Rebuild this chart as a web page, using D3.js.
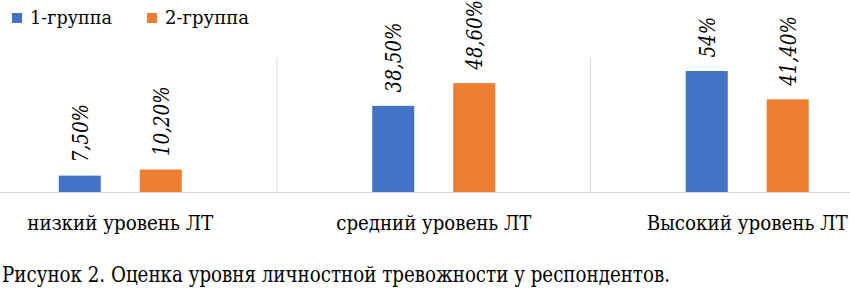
<!DOCTYPE html>
<html><head><meta charset="utf-8">
<script src="https://cdn.jsdelivr.net/npm/d3@7"></script>
<style>
html,body{margin:0;padding:0;background:#fff;}
svg{display:block;}
text{font-family:'DejaVu Serif', serif;}
</style></head>
<body>
<svg id="chart" width="850" height="288"></svg>
<script>
const categories = ["низкий уровень ЛТ", "средний уровень ЛТ", "Высокий уровень ЛТ"];
const seriesNames = ["1-группа", "2-группа"];
const group1 = [7.5, 38.5, 54];
const group2 = [10.2, 48.6, 41.4];
const labels1 = ["7,50%", "38,50%", "54%"];
const labels2 = ["10,20%", "48,60%", "41,40%"];
const colors = ["#4472C4", "#ED7D31"];
const caption = "Рисунок 2. Оценка уровня личностной тревожности у респондентов.";

const catWidths = [186, 195, 201];
const legWidths = [82, 84];
const captionWidth = 668;
const valueSqueeze = 0.83;

const svg = d3.select("#chart");
const x = d3.scaleBand().domain(categories).range([-36.5, 904]).paddingInner(0).paddingOuter(0);
const xs = d3.scaleBand().domain(seriesNames).range([0, x.bandwidth()]).paddingInner(0.4815).paddingOuter(1.176);
const y = d3.scaleLinear().domain([0, 60]).range([192.5, 57.5]);

svg.append("g").selectAll("line").data(categories.slice(1)).join("line")
  .attr("x1", d => x(d)).attr("x2", d => x(d))
  .attr("y1", y(60)).attr("y2", y(0))
  .attr("stroke", "#d9d9d9").attr("stroke-width", 1);

const data = [];
categories.forEach((c, i) => {
  data.push({c, s: seriesNames[0], v: group1[i], l: labels1[i], col: colors[0]});
  data.push({c, s: seriesNames[1], v: group2[i], l: labels2[i], col: colors[1]});
});

svg.append("g").selectAll("rect").data(data).join("rect")
  .attr("x", d => x(d.c) + xs(d.s)).attr("width", xs.bandwidth())
  .attr("y", d => y(d.v)).attr("height", d => y(0) - y(d.v))
  .attr("fill", d => d.col);

svg.append("line").attr("x1", 0).attr("x2", 850).attr("y1", y(0)).attr("y2", y(0))
  .attr("stroke", "#d9d9d9").attr("stroke-width", 1);

svg.append("g").selectAll("text").data(data).join("text")
  .attr("transform", d => `translate(${x(d.c) + xs(d.s) + xs.bandwidth()/2},${y(d.v) - 13.5}) rotate(-90)`)
  .attr("dy", "0.36em")
  .attr("font-size", 22).attr("font-style", "italic").attr("fill", "#000")
  .text(d => d.l)
  .each(function() {
    const w = this.getComputedTextLength();
    d3.select(this).attr("textLength", w * valueSqueeze).attr("lengthAdjust", "spacingAndGlyphs");
  });

svg.append("g").selectAll("text").data(categories).join("text")
  .attr("x", d => x(d) + x.bandwidth()/2).attr("y", 230)
  .attr("text-anchor", "middle").attr("font-size", 21).attr("fill", "#000")
  .attr("textLength", (d, i) => catWidths[i]).attr("lengthAdjust", "spacingAndGlyphs")
  .text(d => d);

const leg = svg.append("g").selectAll("g").data(seriesNames).join("g")
  .attr("transform", (d, i) => `translate(${[12, 147][i]},0)`);
leg.append("rect").attr("x", 0).attr("y", 13).attr("width", 10).attr("height", 10).attr("fill", (d, i) => colors[i]);
leg.append("text").attr("x", 18).attr("y", 24).attr("font-size", 19).attr("fill", "#000")
  .attr("textLength", (d, i) => legWidths[i]).attr("lengthAdjust", "spacingAndGlyphs")
  .text(d => d);

svg.append("text").attr("x", 2).attr("y", 282).attr("font-size", 23).attr("fill", "#000")
  .attr("textLength", captionWidth).attr("lengthAdjust", "spacingAndGlyphs")
  .text(caption);
</script>
</body></html>
